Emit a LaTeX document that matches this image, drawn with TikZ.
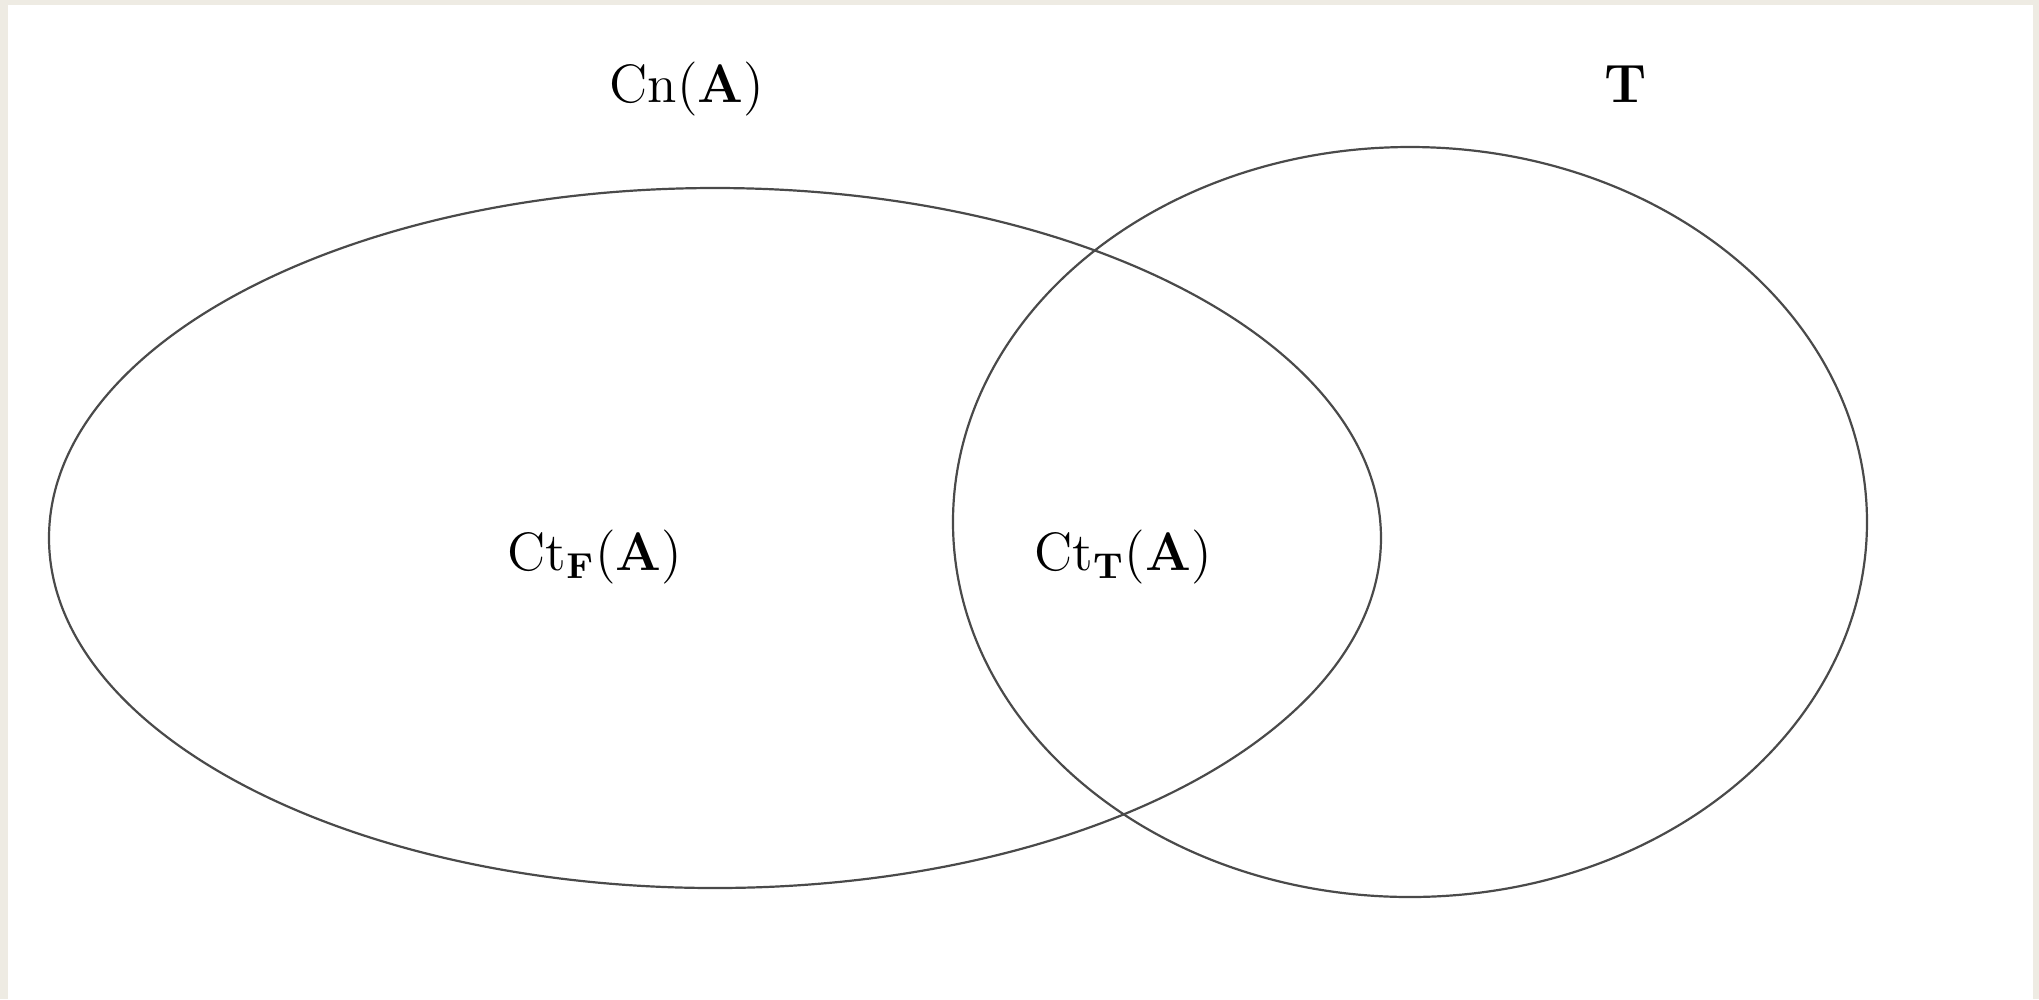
\documentclass[tikz,border=0pt]{standalone}
\usetikzlibrary{shapes.geometric}
\definecolor{cream}{HTML}{EEEBE3}
\definecolor{linegray}{HTML}{4A4A4A}
\begin{document}
\begin{tikzpicture}[x=0.25pt,y=-0.25pt,
  setline/.style={draw=linegray,line width=0.55pt},
  lbl/.style={anchor=base,inner sep=0pt,font=\fontsize{13.5}{16}\selectfont}]
\useasboundingbox (0,0) rectangle (2039,999);
\fill[cream] (0,0) rectangle (2039,999);
\fill[white] (8,5) rectangle (2033,999);
\draw[setline] (715,538) ellipse [x radius=666, y radius=350];
\draw[setline] (1410,522) ellipse [x radius=457, y radius=375];
\node[lbl] (cn) at (687,102) {Cn(\textbf{A})};
\node[lbl] (t) at (1626,102) {\textbf{T}};
\node[lbl] (ctf) at (595,570) {Ct$_{\mathbf{F}}$(\textbf{A})};
\node[lbl] (ctt) at (1123,570) {Ct$_{\mathbf{T}}$(\textbf{A})};
\end{tikzpicture}
\end{document}
